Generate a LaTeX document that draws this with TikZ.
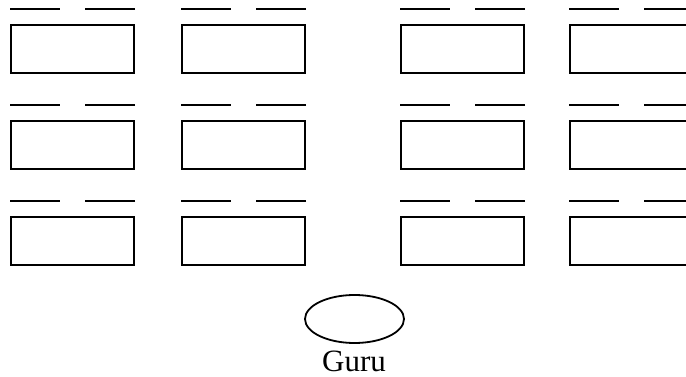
\documentclass[tikz,border=0pt]{standalone}
\usepackage{fontspec}
\setmainfont{Liberation Serif}
\usetikzlibrary{shapes.geometric}
\begin{document}
\begin{tikzpicture}[x=1pt,y=-1pt,
  desk/.style={draw=black, line width=2.2pt, rectangle, anchor=north west,
    minimum width=123pt, minimum height=48pt, inner sep=0pt},
  seat/.style={draw=black, line width=2.2pt},
  teacher/.style={draw=black, line width=1.8pt, ellipse, minimum width=99pt,
    minimum height=48pt, inner sep=0pt}]
  \clip (0,0) rectangle (686,377);
  \fill[white] (0,0) rectangle (686,377);
  % desks in three rows and four columns, two seats marked above each
  \foreach \c/\x in {1/10,2/181,3/400,4/569}{
    \foreach \r/\y in {1/24,2/120,3/216}{
      \node[desk] (d\r\c) at (\x,\y) {};
      \draw[seat] ([yshift=15pt]d\r\c.north west) -- ++(50,0);
      \draw[seat] ([yshift=15pt]d\r\c.north east) -- ++(-50,0);
    }
  }
  % the teacher's place
  \node[teacher] (guru) at (354.5,319) {};
  \node[font=\fontsize{31}{32}\selectfont, anchor=base, inner sep=0pt, text depth=0pt] (guru label) at (354,371) {Guru};
\end{tikzpicture}
\end{document}
